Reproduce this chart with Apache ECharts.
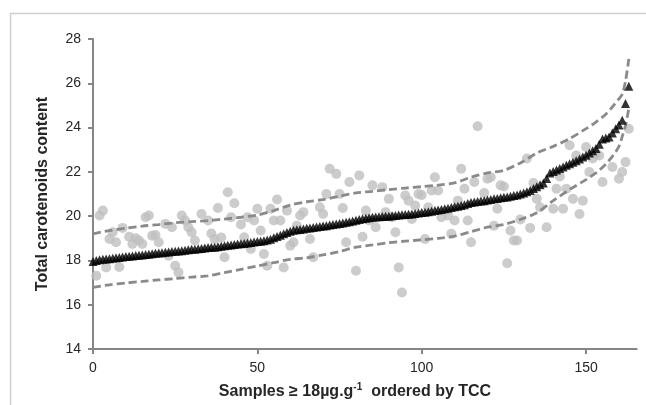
<!DOCTYPE html>
<html>
<head>
<meta charset="utf-8">
<script src="https://cdn.jsdelivr.net/npm/echarts@6/dist/echarts.min.js"></script>
<style>
html,body{margin:0;padding:0;background:#fff;}
#chart{width:646px;height:405px;}
</style>
</head>
<body>
<div id="chart"></div>
<script>
// Sorted TCC values (black triangles), sample index 0..163
var tccSorted = [
17.95,18.00,18.03,18.05,18.07,18.08,18.10,18.12,18.13,18.15,
18.18,18.19,18.20,18.22,18.23,18.25,18.27,18.28,18.30,18.32,
18.34,18.35,18.37,18.38,18.40,18.41,18.43,18.44,18.46,18.48,
18.50,18.51,18.53,18.54,18.56,18.58,18.59,18.60,18.62,18.64,
18.66,18.68,18.70,18.72,18.74,18.75,18.77,18.79,18.81,18.83,
18.85,18.87,18.89,18.92,18.96,19.02,19.08,19.14,19.20,19.26,
19.32,19.36,19.38,19.40,19.42,19.45,19.47,19.49,19.51,19.53,
19.55,19.57,19.60,19.62,19.64,19.67,19.69,19.72,19.75,19.78,
19.82,19.85,19.88,19.91,19.93,19.95,19.96,19.97,19.98,19.99,
20.00,20.02,20.03,20.05,20.06,20.07,20.08,20.10,20.12,20.14,
20.16,20.18,20.20,20.22,20.25,20.28,20.30,20.33,20.36,20.39,
20.42,20.45,20.48,20.52,20.57,20.62,20.64,20.66,20.68,20.70,
20.73,20.75,20.78,20.80,20.83,20.85,20.87,20.90,20.93,20.96,
21.00,21.05,21.10,21.16,21.25,21.33,21.42,21.50,21.70,21.95,
22.02,22.08,22.15,22.22,22.30,22.37,22.43,22.50,22.58,22.67,
22.75,22.85,22.95,23.05,23.25,23.48,23.53,23.57,23.75,23.95,
24.12,24.33,25.09,25.87
];

// Grey circles: [sample index, value]
var otherMeasure = [
[1,17.31],[2,20.03],[3,20.25],[4,17.68],[5,18.97],[6,19.27],[7,18.82],[8,17.70],[9,19.47],
[11,19.07],[12,18.74],[13,19.00],[14,18.90],[15,18.74],[16,19.95],[17,20.03],[18,19.12],[19,19.15],
[20,18.82],[22,19.65],[23,18.21],[24,19.50],[25,17.76],[26,17.46],[27,20.03],[28,19.80],[29,19.50],
[30,19.27],[31,18.90],[33,20.10],[35,19.80],[36,19.22],[37,18.97],[38,20.37],[39,19.04],[40,18.14],
[41,21.08],[42,19.95],[43,20.58],[45,19.62],[46,19.05],[47,19.95],[48,18.52],[49,19.80],[50,20.33],
[51,19.35],[52,18.29],[53,17.76],[54,20.33],[55,19.80],[56,20.75],[57,19.80],[58,17.68],[59,20.25],
[60,18.67],[61,18.82],[62,19.57],[63,20.03],[64,20.18],[66,18.97],[67,18.14],[69,20.40],[70,20.10],
[71,21.00],[72,22.14],[74,21.91],[75,21.00],[76,20.37],[77,18.82],[78,21.54],[80,17.53],[81,21.84],
[82,19.07],[83,20.25],[84,19.80],[85,21.39],[86,19.50],[88,21.31],[89,20.18],[90,20.78],[91,19.95],
[92,19.27],[93,17.68],[94,16.55],[95,20.93],[96,20.70],[97,19.87],[98,20.48],[99,21.00],[100,20.95],
[101,18.97],[102,20.40],[103,21.16],[104,21.76],[105,21.16],[106,19.95],[108,20.03],[109,19.20],
[110,19.80],[111,20.70],[112,22.14],[113,21.24],[114,19.80],[115,18.82],[116,21.54],[117,24.06],
[119,21.04],[120,21.69],[121,21.76],[122,19.57],[123,20.33],[124,21.39],[125,21.34],[126,17.87],
[127,19.35],[128,18.90],[129,18.90],[130,19.85],[132,22.60],[133,19.47],[134,21.50],[135,20.78],
[136,20.40],[138,19.50],[140,20.33],[141,21.24],[142,21.79],[143,20.33],[144,21.24],[145,23.20],
[146,20.78],[147,22.74],[148,20.10],[149,20.70],[150,23.12],[151,21.99],[152,22.60],[153,22.82],
[154,22.74],[155,21.54],[158,22.22],[160,21.69],[161,21.99],[162,22.44],[163,23.95]
];

// Dashed bounds
var boundIdx = [0,5,10,15,20,25,30,35,40,45,50,55,60,65,70,75,80,85,90,95,100,105,110,115,120,125,130,135,140,145,150,153,156,158,160,161,162,163];
var upperBound = [19.20,19.35,19.45,19.55,19.62,19.70,19.75,19.80,19.87,19.95,20.05,20.25,20.50,20.65,20.75,20.90,21.05,21.12,21.20,21.27,21.33,21.40,21.50,21.76,21.95,22.07,22.40,22.85,23.15,23.50,23.95,24.25,24.60,24.93,25.30,25.50,26.10,27.10];
var lowerBound = [16.78,16.90,16.98,17.05,17.12,17.18,17.25,17.30,17.45,17.60,17.75,17.90,18.05,18.12,18.25,18.40,18.60,18.70,18.80,18.87,18.93,19.00,19.10,19.30,19.50,19.62,19.85,20.15,20.70,21.20,21.65,21.95,22.35,22.70,23.15,23.60,24.10,24.86];

var xTicks = [0,50,100,150];
var yTicks = [14,16,18,20,22,24,26,28];

var chart = echarts.init(document.getElementById('chart'), null, {renderer:'canvas'});
var axisColor = '#868686';
var labelColor = '#262626';
var font = 'Liberation Sans, Arial, sans-serif';

var option = {
  backgroundColor: '#ffffff',
  animation: false,
  grid: {left: 93, top: 39, right: 9.3, bottom: 56, containLabel: false},
  xAxis: {
    type: 'value', min: 0, max: 165.4,
    axisLine: {show: true, lineStyle: {color: axisColor, width: 2}},
    axisTick: {show: true, length: 5, lineStyle: {color: axisColor, width: 2}, customValues: xTicks},
    axisLabel: {customValues: xTicks, color: labelColor, fontSize: 14, fontFamily: font, margin: 12},
    splitLine: {show: false}
  },
  yAxis: {
    type: 'value', min: 14, max: 28, interval: 2,
    name: 'Total carotenoids content', nameLocation: 'middle', nameGap: 42,
    nameTextStyle: {fontSize: 16, fontWeight: 'bold', color: labelColor, fontFamily: font},
    axisLine: {show: true, lineStyle: {color: axisColor, width: 2}},
    axisTick: {show: true, length: 5, lineStyle: {color: axisColor, width: 2}, customValues: yTicks},
    axisLabel: {customValues: yTicks, color: labelColor, fontSize: 14, fontFamily: font, margin: 12},
    splitLine: {show: false}
  },
  graphic: [
    {type: 'polyline', silent: true, shape: {points: [[10.5, 700], [10.5, 13.5], [700, 13.5]]},
     style: {stroke: '#cfcfcf', lineWidth: 1.5, fill: null}},
    {type: 'text', x: 355, y: 392, silent: true,
     style: {
       text: 'Samples ≥ 18µg.g{sup|-1}  ordered by TCC',
       align: 'center', verticalAlign: 'middle',
       font: 'bold 16px ' + font, fill: labelColor,
       rich: {sup: {fontSize: 10, fontWeight: 'bold', fontFamily: font, fill: labelColor, color: labelColor, padding: [0, 0, 9, 0]}}
     }}
  ],
  series: [
    {
      type: 'scatter', name: 'other', symbol: 'circle', symbolSize: 10,
      itemStyle: {color: '#bfbfbf'},
      data: otherMeasure, z: 1
    },
    {
      type: 'line', name: 'upper', smooth: 0.3, showSymbol: false, symbol: 'none',
      lineStyle: {color: '#8a8a8a', width: 2.8, type: [8, 4]},
      data: boundIdx.map(function (x, k) { return [x, upperBound[k]]; }), z: 2
    },
    {
      type: 'line', name: 'lower', smooth: 0.3, showSymbol: false, symbol: 'none',
      lineStyle: {color: '#8a8a8a', width: 2.8, type: [8, 4]},
      data: boundIdx.map(function (x, k) { return [x, lowerBound[k]]; }), z: 2
    },
    {
      type: 'scatter', name: 'tcc', symbol: 'triangle', symbolSize: 9,
      itemStyle: {color: '#000000'},
      data: tccSorted.map(function (v, i) { return [i, v]; }), z: 3
    }
  ]
};
chart.setOption(option);
</script>
</body>
</html>
